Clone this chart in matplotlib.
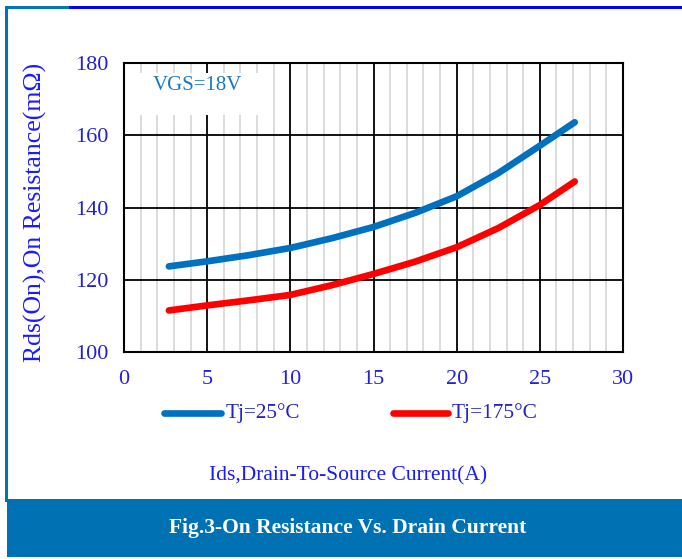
import matplotlib
matplotlib.use("Agg")
import matplotlib.pyplot as plt
from matplotlib.patches import Rectangle
from matplotlib.lines import Line2D
import numpy as np

# ---- data ----
ids = [2.7, 5, 7.5, 10, 12.5, 15, 17.5, 20, 22.5, 25, 27.1]
rds_25 = [123.7, 125.1, 126.8, 128.8, 131.5, 134.6, 138.5, 143.1, 149.5, 157.1, 163.6]
rds_175 = [111.5, 112.9, 114.3, 115.8, 118.5, 121.6, 125.0, 129.0, 134.3, 140.7, 147.2]
xticks = [0, 5, 10, 15, 20, 25, 30]
yticks = [100, 120, 140, 160, 180]
series_labels = ["Tj=25°C", "Tj=175°C"]
title = "Fig.3-On Resistance Vs. Drain Current"
annot = "VGS=18V"

W, H = 682, 559
fig = plt.figure(figsize=(W / 100, H / 100), dpi=100)
plt.rcParams['font.family'] = ['Liberation Serif', 'DejaVu Serif']

def fx(px):
    return px / W

def fy(py):
    return 1 - py / H

# frame decorations
fig.patches.append(Rectangle((fx(5), fy(9)), fx(64), 3 / H, transform=fig.transFigure,
                             color='#0077b6', lw=0))
fig.patches.append(Rectangle((fx(69), fy(9)), fx(682 - 69), 3 / H, transform=fig.transFigure,
                             color='#0000ff', lw=0))
fig.patches.append(Rectangle((fx(5), fy(502)), 3 / W, (502 - 6) / H, transform=fig.transFigure,
                             color='#0073b5', lw=0))
fig.patches.append(Rectangle((fx(7), fy(557)), fx(682 - 7), (557 - 499) / H, transform=fig.transFigure,
                             color='#0072b4', lw=0))
fig.text(fx(348), fy(528), title, color='white', fontsize=15.5, fontweight='bold',
         ha='center', va='center')

ax = fig.add_axes([fx(124), fy(352), fx(623 - 124), (352 - 63) / H])
ax.set_xlim(0, 30)
ax.set_ylim(100, 180)
ax.set_xticks(xticks)
ax.set_yticks(yticks)
ax.set_xticks(np.arange(0, 31, 1), minor=True)
ax.grid(which='minor', axis='x', color='#d9d9d9', lw=1.3, zorder=0)
ax.grid(which='major', axis='both', color='black', lw=1.3, zorder=1)
ax.tick_params(which='both', length=0)
ax.tick_params(axis='x', pad=13, labelsize=16, labelcolor='#2222dd')
ax.tick_params(axis='y', pad=11.5, labelsize=16, labelcolor='#2222cc')
for s in ax.spines.values():
    s.set_linewidth(1.5)
    s.set_color('black')

# white box behind annotation
ax.add_patch(Rectangle((0.6, 165.6), 7.9, 11.6, facecolor='white', edgecolor='none', zorder=2))
ax.text(1.75, 173.9, annot, color='#1a78c6', fontsize=15, va='center', ha='left', zorder=3)

ax.plot(ids, rds_25, color='#0070c0', lw=4.8, solid_capstyle='round', zorder=4)
ax.plot(ids, rds_175, color='#ff0000', lw=4.8, solid_capstyle='round', zorder=4)

fig.text(fx(35), fy(212), "Rds(On),On Resistance(mΩ)", color='#1a1aff', fontsize=18.5,
         rotation=90, ha='center', va='center')

# legend (manual, in figure coordinates)
fig.lines.append(Line2D([fx(164), fx(221)], [fy(413), fy(413)], transform=fig.transFigure,
                        color='#0070c0', lw=4.8, solid_capstyle='round'))
fig.text(fx(226), fy(413), series_labels[0], color='#2222cc', fontsize=15.2, va='center', ha='left')
fig.lines.append(Line2D([fx(393), fx(448)], [fy(413), fy(413)], transform=fig.transFigure,
                        color='#ff0000', lw=4.8, solid_capstyle='round'))
fig.text(fx(452), fy(413), series_labels[1], color='#2222cc', fontsize=15.4, va='center', ha='left')

fig.text(fx(348), fy(476), "Ids,Drain-To-Source Current(A)", color='#1a1aff', fontsize=15.5,
         ha='center', va='center')

fig.savefig("out.png", dpi=100)
